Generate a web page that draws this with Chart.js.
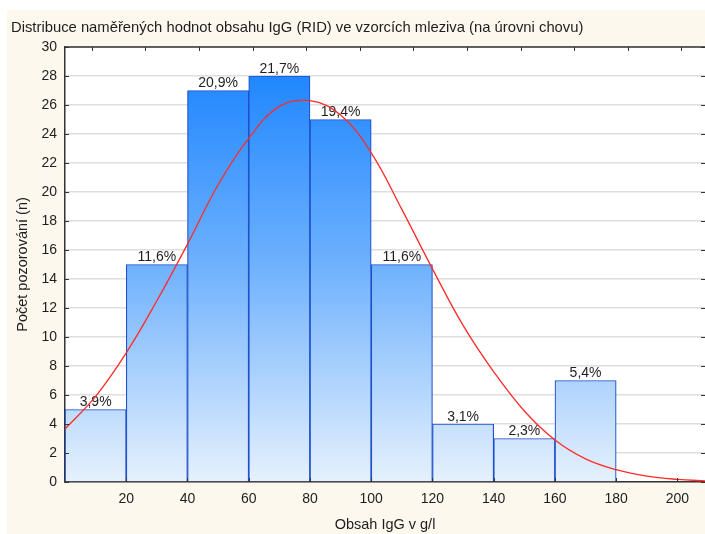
<!DOCTYPE html>
<html lang="cs">
<head>
<meta charset="utf-8">
<title>Distribuce IgG</title>
<script src="https://cdn.jsdelivr.net/npm/chart.js@4.4.1/dist/chart.umd.min.js"></script>
<style>
    html, body { margin: 0; padding: 0; background: #ffffff; }
    #chart { display: block; }
</style>
</head>
<body>
<canvas id="chart" width="705" height="534"></canvas>
<script>
// histogram bins (centre of each 20 g/l class) and counts
const binCenters = [10, 30, 50, 70, 90, 110, 130, 150, 170];
const counts = [5, 15, 27, 28, 25, 15, 4, 3, 7];

// fitted normal curve, sampled every 10 g/l
const curveX = [0, 10, 20, 30, 40, 50, 60, 70, 80, 90, 100, 110, 120, 130, 140, 150, 160, 170, 180, 190, 200, 210];
const curveY = [3.65, 5.9, 8.9, 12.5, 16.4, 20.5, 23.7, 25.9, 26.3, 25.3, 22.7, 18.8, 14.7, 10.8, 7.6, 4.9, 2.9, 1.6, 0.85, 0.4, 0.18, 0.07];

const xTickValues = [20, 40, 60, 80, 100, 120, 140, 160, 180, 200];
const topTickValues = [8.75, 26.25, 43.75, 61.25, 78.75, 96.25, 113.75, 131.25, 148.75, 166.25, 183.75, 201.25];

const total = counts.reduce((a, b) => a + b, 0);

const colors = {
    panel: '#fdf8ee',
    axis: '#333333',
    grid: '#dedede',
    text: '#1e1e1e',
    barBorder: '#1f52cc',
    curve: '#ff2a2a',
};

const font = { family: '"Liberation Sans", Arial, sans-serif', size: 14 };

function barGradient(context) {
    const area = context.chart.chartArea;
    if (!area) return '#7ab7fe';
    const g = context.chart.ctx.createLinearGradient(0, area.top, 0, area.bottom);
    g.addColorStop(0, '#1581ff');
    g.addColorStop(0.5, '#6eb1fd');
    g.addColorStop(1, '#e6f1fd');
    return g;
}

// cream panel behind everything, white plotting area
const backdrop = {
    id: 'backdrop',
    beforeDraw(chart) {
        const { ctx, chartArea: a, width, height } = chart;
        ctx.save();
        ctx.fillStyle = '#ffffff';
        ctx.fillRect(0, 0, width, height);
        ctx.fillStyle = colors.panel;
        ctx.fillRect(7, 10, width - 7, height - 10);
        ctx.fillStyle = '#ffffff';
        ctx.fillRect(a.left, a.top, a.right - a.left, a.bottom - a.top);
        ctx.restore();
    },
};

// percentage share written above each bar
const barLabels = {
    id: 'barLabels',
    afterDatasetDraw(chart, args) {
        if (args.meta.type !== 'bar') return;
        const { ctx } = chart;
        ctx.save();
        ctx.font = `${font.size}px ${font.family}`;
        ctx.fillStyle = colors.text;
        ctx.textAlign = 'center';
        ctx.textBaseline = 'alphabetic';
        args.meta.data.forEach((bar, i) => {
            const pct = (counts[i] / total * 100).toFixed(1).replace('.', ',') + '%';
            ctx.fillText(pct, bar.x, bar.y - 3);
        });
        ctx.restore();
    },
};

// frame on top edge plus short inward tick marks on all four sides
const innerTicks = {
    id: 'innerTicks',
    afterDatasetsDraw(chart) {
        const { ctx, chartArea: a, scales } = chart;
        const len = 4;
        ctx.save();
        ctx.strokeStyle = colors.axis;
        ctx.lineWidth = 1.5;
        ctx.beginPath();
        ctx.moveTo(a.left, a.top);
        ctx.lineTo(a.right, a.top);
        ctx.stroke();
        ctx.lineWidth = 1;
        ctx.beginPath();
        scales.y.ticks.forEach(t => {
            const y = Math.round(scales.y.getPixelForValue(t.value)) + 0.5;
            ctx.moveTo(a.left, y);
            ctx.lineTo(a.left + len, y);
            ctx.moveTo(a.right, y);
            ctx.lineTo(a.right - len, y);
        });
        xTickValues.forEach(v => {
            const x = Math.round(scales.x.getPixelForValue(v)) + 0.5;
            ctx.moveTo(x, a.bottom);
            ctx.lineTo(x, a.bottom - len);
        });
        topTickValues.forEach(v => {
            const x = Math.round(scales.x.getPixelForValue(v)) + 0.5;
            ctx.moveTo(x, a.top);
            ctx.lineTo(x, a.top + len);
        });
        ctx.stroke();
        ctx.restore();
    },
};

new Chart(document.getElementById('chart'), {
    type: 'bar',
    data: {
        datasets: [
            {
                type: 'line',
                label: 'Normální rozdělení',
                data: curveX.map((x, i) => ({ x, y: curveY[i] })),
                borderColor: colors.curve,
                borderWidth: 1.3,
                pointRadius: 0,
                tension: 0.4,
                fill: false,
                order: 0,
            },
            {
                type: 'bar',
                label: 'Počet',
                data: binCenters.map((x, i) => ({ x, y: counts[i] })),
                backgroundColor: barGradient,
                borderColor: colors.barBorder,
                borderWidth: 1.2,
                barPercentage: 1,
                categoryPercentage: 1,
                order: 1,
            },
        ],
    },
    options: {
        responsive: false,
        animation: false,
        devicePixelRatio: 1,
        layout: { padding: { left: 11, right: 0, top: 0, bottom: 0 } },
        scales: {
            x: {
                type: 'linear',
                min: 0,
                max: 209,
                offset: false,
                grid: { display: false, drawTicks: false },
                border: { display: true, color: colors.axis, width: 1.5 },
                ticks: { font, color: colors.text, padding: 9, autoSkip: false, maxRotation: 0 },
                afterBuildTicks: axis => { axis.ticks = xTickValues.map(value => ({ value })); },
                afterFit: axis => { axis.height = 52; },
                title: { display: true, text: 'Obsah IgG v g/l', font: { ...font, size: 14.5 }, color: colors.text, padding: { top: 2, bottom: 0 } },
            },
            y: {
                min: 0,
                max: 30,
                grid: { color: colors.grid, lineWidth: 1.5, drawTicks: false },
                border: { display: true, color: colors.axis, width: 1.5 },
                ticks: { stepSize: 2, font, color: colors.text, padding: 8 },
                afterFit: axis => { axis.width = 54; },
                title: { display: true, text: 'Počet pozorování (n)', font: { ...font, size: 14.5 }, color: colors.text, padding: { top: 3, bottom: 0 } },
            },
        },
        plugins: {
            legend: { display: false },
            tooltip: { enabled: false },
            title: {
                display: true,
                text: 'Distribuce naměřených hodnot obsahu IgG (RID) ve vzorcích mleziva (na úrovni chovu)',
                align: 'start',
                color: colors.text,
                font: { family: font.family, size: 14.8, weight: 'normal' },
                padding: { top: 19.5, bottom: 9.7 },
            },
        },
    },
    plugins: [backdrop, barLabels, innerTicks],
});
</script>
</body>
</html>
